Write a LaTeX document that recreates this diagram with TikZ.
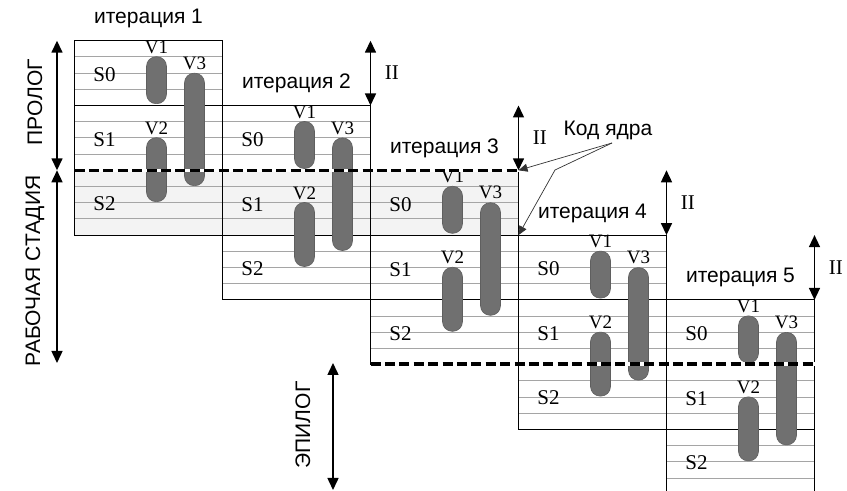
\documentclass[tikz,border=0pt]{standalone}
\usepackage{fontspec}
\setmainfont{Liberation Sans}
\newfontfamily\lserif{Liberation Serif}
\usetikzlibrary{arrows.meta, positioning, calc}
\definecolor{barc}{RGB}{112,112,112}
\definecolor{rowc}{RGB}{165,165,165}
\definecolor{kernc}{RGB}{243,243,243}

\begin{document}
\begin{tikzpicture}[x=0.5pt, y=-0.5pt, font=\fontsize{10.5}{12}\selectfont,
    rowline/.style={draw=rowc, line width=0.4pt},
    stageline/.style={draw=black, line width=0.5pt},
    bar/.style={fill=barc, draw=barc!85!black, line width=0.3pt, rounded corners=4.8pt},
    vlab/.style={font=\lserif\fontsize{9.5}{10}\selectfont, inner sep=0pt},
    slab/.style={font=\lserif\fontsize{10.5}{11}\selectfont, inner sep=0pt},
    span/.style={{Triangle[length=6pt, width=5.5pt]}-{Triangle[length=6pt, width=5.5pt]}, line width=0.75pt},
    kernel/.style={line width=1.6pt, dash pattern=on 5pt off 2.2pt},
    ptr/.style={-{Triangle[length=4.5pt, width=4pt]}, line width=0.35pt, draw=black!80}]
\useasboundingbox (0,0) rectangle (847,491);
% kernel band
\fill[kernc] (74.5,170.3) rectangle (518.5,235.1);
% iterations
\foreach \i [evaluate=\i as \n using int(\i+1)] in {0,...,4} {
  \pgfmathsetmacro\bx{74.5+148*\i}
  \pgfmathsetmacro\by{40.7+64.8*\i}
  \coordinate (tl\i) at (\bx,\by);
  \coordinate (tr\i) at (\bx+148,\by);
  \coordinate (up\i) at (\bx+148,\by-64.8);
  \foreach \r in {1,2,3,5,6,7,9,10,11}
    \draw[rowline] (\bx,\by+16.2*\r) -- ++(148,0);
  \foreach \r in {4,8}
    \draw[stageline] (\bx,\by+16.2*\r) -- ++(148,0);
  \draw[stageline] (\bx,\by) rectangle ++(148,194.4);
  % V1, V2, V3
  \draw[bar] (\bx+72,\by+16) rectangle (\bx+92,\by+63);
  \draw[bar] (\bx+72,\by+97) rectangle (\bx+92,\by+161);
  \draw[bar] (\bx+110,\by+32.5) rectangle (\bx+130,\by+145);
  \node[vlab] (v1-\n) at (\bx+82,\by+6.5) {V1};
  \node[vlab] (v2-\n) at (\bx+82,\by+87.5) {V2};
  \node[vlab] (v3-\n) at (\bx+120,\by+22.5) {V3};
  \node[slab] (s0-\n) at (\bx+30,\by+34) {S0};
  \node[slab] (s1-\n) at (\bx+30,\by+99) {S1};
  \node[slab] (s2-\n) at (\bx+30,\by+163) {S2};
  \node (it\n) at (\bx+74,\by-22) {итерация \n};
}
% kernel borders
\draw[white, line width=1.6pt] (74.5,170.3) -- (520,170.3);
\draw[kernel] (74.5,170.3) -- (520,170.3);
\draw[white, line width=1.6pt] (370.5,364.1) -- (816,364.1);
\draw[kernel] (370.5,364.1) -- (816,364.1);
% II shifts
\foreach \i in {1,...,4}
  \draw[span] (up\i) -- (tr\i)
    node[midway, right=3.5pt, font=\lserif\fontsize{10.5}{11}\selectfont] (ii\i) {II};
% stages
\coordinate (pro-a) at (57,40.7);
\coordinate (pro-b) at (57,170.3);
\coordinate (work-b) at (57,363);
\coordinate (epi-a) at (333,363);
\coordinate (epi-b) at (333,490);
\draw[span] (pro-a) -- (pro-b);
\draw[span] (pro-b) -- (work-b);
\draw[span] (epi-a) -- (epi-b);
\node[rotate=90] (prolog) at (35,102) {ПРОЛОГ};
\node[rotate=90] (work) at (35,271) {РАБОЧАЯ СТАДИЯ};
\node[rotate=90] (epilog) at (303,425) {ЭПИЛОГ};
% kernel code
\node (kern) at (608,130) {Код ядра};
\coordinate (kp) at (612,143);
\draw[ptr] (kp) -- (tr2);
\draw[ptr] (kp) -- (555,170) -- (tl3);
\end{tikzpicture}
\end{document}
